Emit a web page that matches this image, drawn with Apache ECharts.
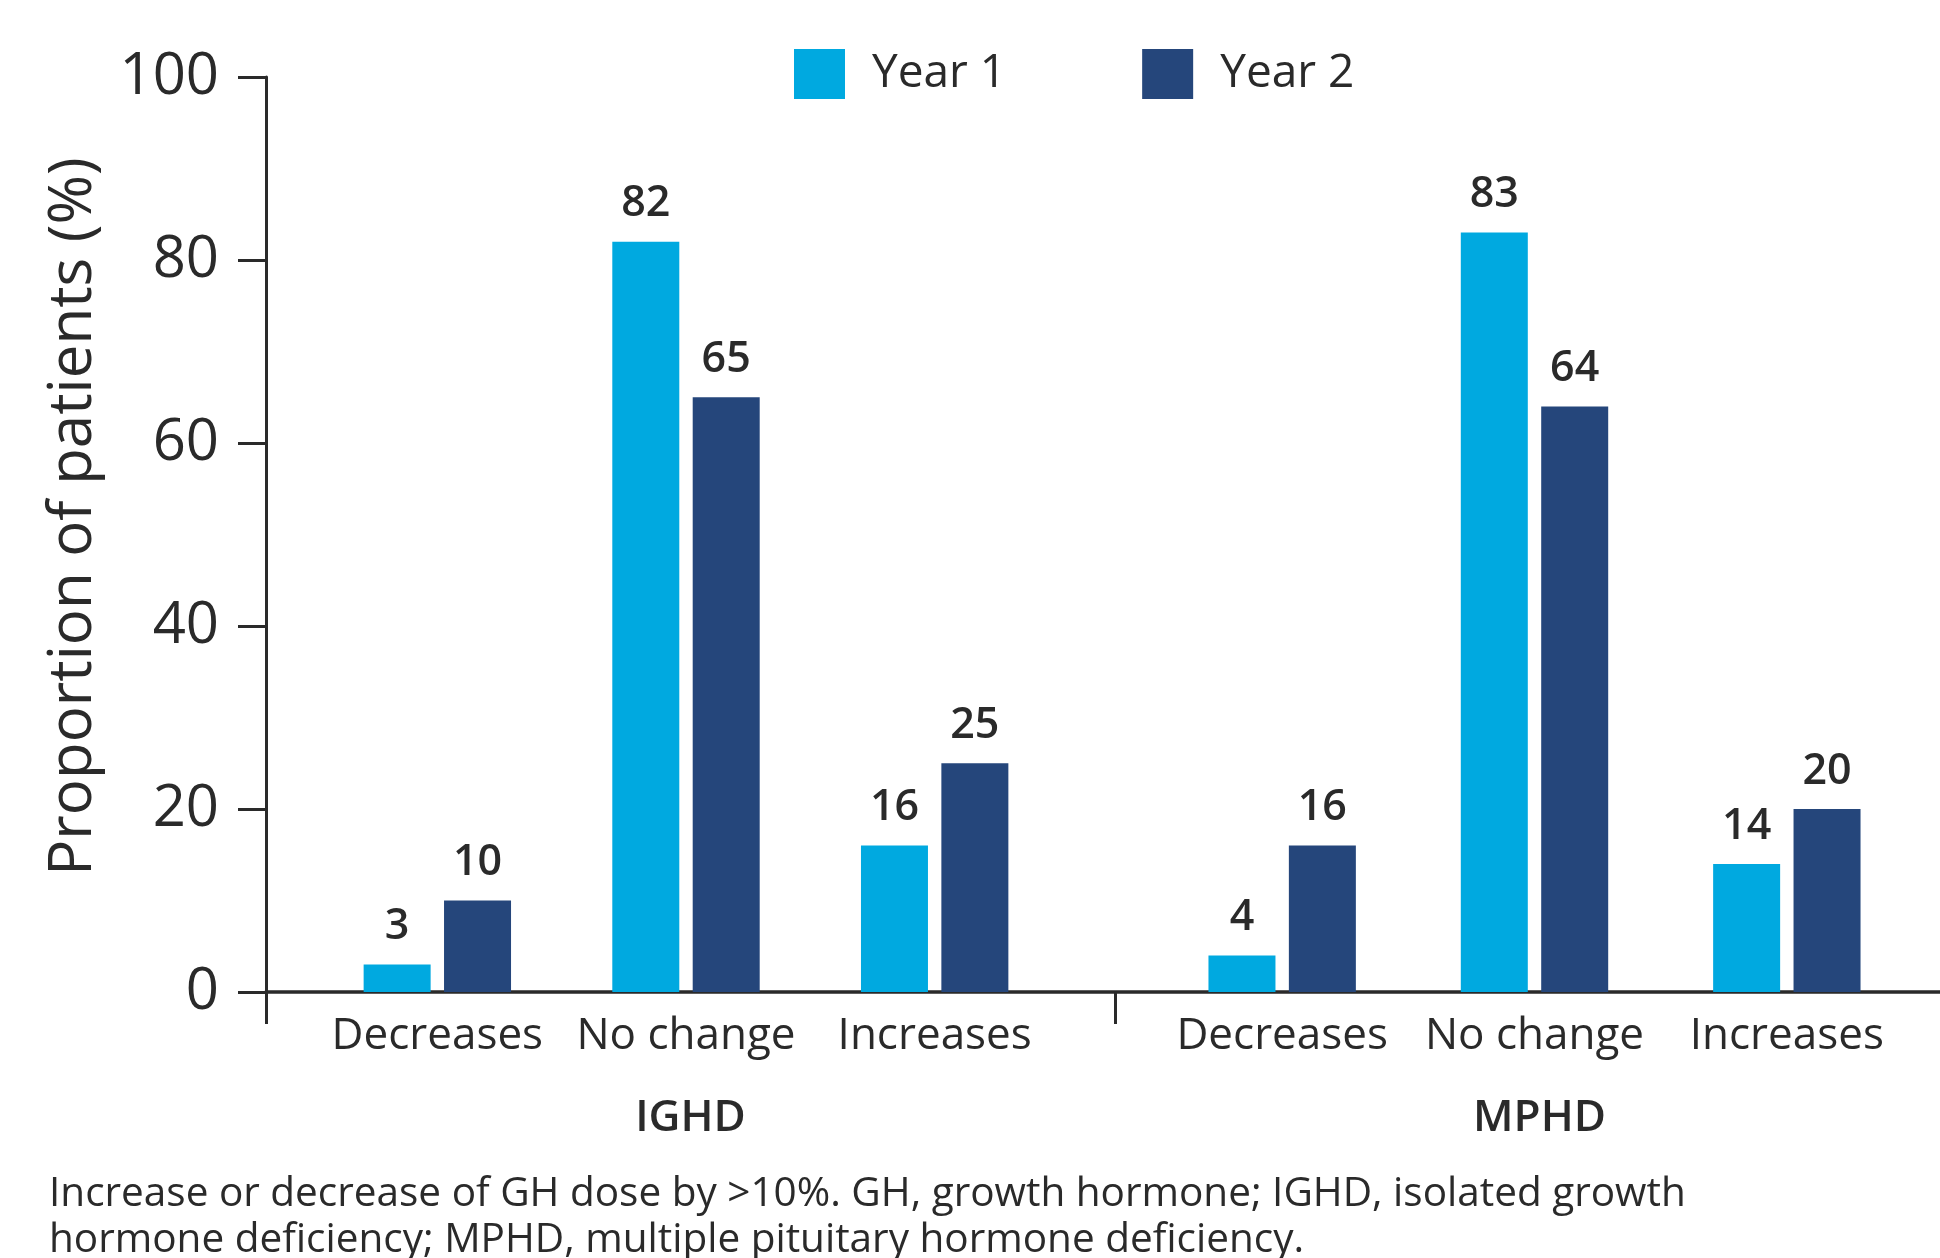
<!DOCTYPE html>
<html>
<head>
<meta charset="utf-8">
<script src="https://cdn.jsdelivr.net/npm/echarts@6/dist/echarts.min.js"></script>
<style>
  html, body { margin: 0; padding: 0; background: #fff; }
  #chart-container { width: 1940px; height: 1258px; }
</style>
</head>
<body>
<div id="chart-container"></div>
<script>
// categories within each group
var categories = ['Decreases', 'No change', 'Increases'];
var groups = ['IGHD', 'MPHD'];
var seriesNames = ['Year 1', 'Year 2'];

// proportion of patients (%)
var ighdYear1 = [3, 82, 16];
var ighdYear2 = [10, 65, 25];
var mphdYear1 = [4, 83, 14];
var mphdYear2 = [16, 64, 20];

var yTicks = { min: 0, max: 100, interval: 20 };

var footnote = 'Increase or decrease of GH dose by >10%. GH, growth hormone; IGHD, isolated growth\nhormone deficiency; MPHD, multiple pituitary hormone deficiency.';

var colorYear1 = '#00a9e0';
var colorYear2 = '#25467b';
var textColor = '#2a2a2a';
var font = '"Open Sans", sans-serif';

var dom = document.getElementById('chart-container');
var myChart = echarts.init(dom, null, { renderer: 'canvas' });

var gridTop = 77, gridBottom = 266;

function barSeries(name, data, color, idx) {
    return {
        name: name,
        type: 'bar',
        xAxisIndex: idx,
        yAxisIndex: idx,
        data: data,
        barWidth: 67,
        barGap: '20%',
        itemStyle: { color: color },
        label: {
            show: true,
            position: 'top',
            distance: 16,
            color: textColor,
            fontFamily: font,
            fontWeight: 600,
            fontSize: 43
        }
    };
}

function hiddenY(idx) {
    return {
        type: 'value', gridIndex: idx, min: yTicks.min, max: yTicks.max, interval: yTicks.interval,
        show: false, splitLine: { show: false }
    };
}

function catX(idx) {
    return {
        type: 'category', gridIndex: idx, data: categories,
        axisLine: { show: false }, axisTick: { show: false },
        axisLabel: { interval: 0, margin: 22, color: textColor, fontFamily: font, fontSize: 44 }
    };
}

var option = {
    backgroundColor: '#ffffff',
    animation: false,
    legend: {
        data: seriesNames,
        left: 789,
        top: 44,
        itemWidth: 51,
        itemHeight: 50,
        itemGap: 136,
        icon: 'rect',
        textStyle: { color: textColor, fontFamily: font, fontSize: 46, padding: [0, 0, 0, 22] }
    },
    grid: [
        // frame grid: axes only, its middle tick splits the two groups
        { left: 266, width: 1698, top: gridTop, bottom: gridBottom, outerBoundsMode: 'none' },
        // IGHD bars
        { left: 313, width: 746, top: gridTop, bottom: gridBottom, outerBoundsMode: 'none' },
        // MPHD bars
        { left: 1156, width: 757, top: gridTop, bottom: gridBottom, outerBoundsMode: 'none' }
    ],
    xAxis: [
        {
            type: 'category', gridIndex: 0, data: groups, boundaryGap: true,
            axisLine: { lineStyle: { color: textColor, width: 3.5 } },
            axisTick: { show: true, length: 32, lineStyle: { color: textColor, width: 3 } },
            axisLabel: { margin: 104, color: textColor, fontFamily: font, fontWeight: 600, fontSize: 44 }
        },
        catX(1),
        catX(2)
    ],
    yAxis: [
        {
            type: 'value', gridIndex: 0, min: yTicks.min, max: yTicks.max, interval: yTicks.interval,
            name: 'Proportion of patients (%)',
            nameLocation: 'middle',
            nameGap: 162,
            nameTextStyle: { color: textColor, fontFamily: font, fontSize: 60, padding: [0, 0, 0, 36] },
            axisLine: { show: true, lineStyle: { color: textColor, width: 3 } },
            axisTick: { show: true, length: 28, lineStyle: { color: textColor, width: 3 } },
            axisLabel: { margin: 47, color: textColor, fontFamily: font, fontSize: 58 },
            splitLine: { show: false }
        },
        hiddenY(1),
        hiddenY(2)
    ],
    graphic: [
        {
            type: 'text',
            left: 49,
            top: 1171,
            style: {
                text: footnote,
                fill: textColor,
                font: '40.5px "Open Sans", sans-serif',
                lineHeight: 46
            }
        }
    ],
    series: [
        barSeries(seriesNames[0], ighdYear1, colorYear1, 1),
        barSeries(seriesNames[1], ighdYear2, colorYear2, 1),
        barSeries(seriesNames[0], mphdYear1, colorYear1, 2),
        barSeries(seriesNames[1], mphdYear2, colorYear2, 2)
    ]
};

if (option && typeof option === 'object') {
    myChart.setOption(option);
}

window.addEventListener('resize', myChart.resize);
</script>
</body>
</html>
